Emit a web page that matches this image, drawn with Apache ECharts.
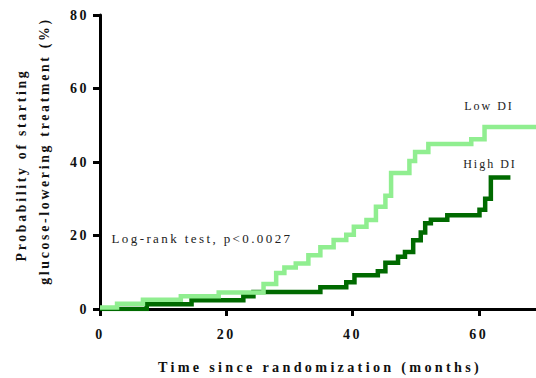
<!DOCTYPE html>
<html><head><meta charset="utf-8">
<script src="https://cdn.jsdelivr.net/npm/echarts@6/dist/echarts.min.js"></script>
<style>
html,body{margin:0;padding:0;background:#fff}
#c{width:536px;height:378px}
#c text[style*="14px"]{letter-spacing:2.5px}
#c text[style*="14.2px"]{letter-spacing:3.3px}
#c text[style*="13.8px"]{letter-spacing:2.7px}
#c text[style*="13px"]{letter-spacing:2.4px}
#c text[style*="12px"]{letter-spacing:2px}
</style></head><body><div id="c"></div><script>
// Kaplan-Meier style cumulative probability (%), [months, value from that time on]
const lowDI = [[0,0.4],[2.7,1.4],[6.8,2.5],[12.8,3.5],[18.8,4.5],[25.9,6.8],[27.9,9.8],[29.2,11.3],[31,12.4],[33,14.6],[34.9,16.8],[37,18.8],[39,20.2],[40.2,22.4],[42.2,24.2],[43.7,27.8],[45.2,30.8],[46.1,37],[49,40.3],[49.9,42.7],[52,44.9],[58.8,46.2],[60.9,49.5],[70,49.5]];
const highDI = [[0,0],[7.4,1.3],[14.5,2.4],[22.7,3.5],[24.3,4.6],[34.9,5.9],[39,7.3],[40.3,9.2],[44,10.3],[45.2,12.6],[47.2,14.2],[48.3,15.5],[49.6,18.7],[50.8,20.8],[51.5,23.3],[52.4,24.3],[55,25.5],[60.1,27],[61,30],[61.9,35.8],[65,35.8]];
const xTickLabels = [0,20,40,60];
const yTickLabels = [0,20,40,60,80];
const xTitle = 'Time since randomization (months)';
const yTitle1 = 'Probability of starting';
const yTitle2 = 'glucose-lowering treatment (%)';
const note = 'Log-rank test, p<0.0027';
const lowName = 'Low DI', highName = 'High DI';

const chart = echarts.init(document.getElementById('c'), null, {renderer:'svg'});
const serif = '"Liberation Serif", "DejaVu Serif", serif';
chart.setOption({
  animation:false,
  grid:{left:100,right:-6,top:15,bottom:69,containLabel:false,outerBoundsMode:'none'},
  xAxis:{type:'value',min:0,max:70,interval:20,
    splitLine:{show:false},
    axisLine:{onZero:false,lineStyle:{color:'#000',width:3}},
    axisTick:{length:7,lineStyle:{color:'#000',width:3}},
    axisLabel:{margin:18,fontSize:14,fontWeight:'bold',fontFamily:serif,color:'#111',
      formatter:v=>xTickLabels.includes(v)?String(v):''}},
  yAxis:{type:'value',min:0,max:80,interval:20,
    splitLine:{show:false},
    axisLine:{show:true,lineStyle:{color:'#000',width:3}},
    axisTick:{show:true,length:7,lineStyle:{color:'#000',width:3}},
    axisLabel:{margin:11,fontSize:14,fontWeight:'bold',fontFamily:serif,color:'#111',
      formatter:v=>yTickLabels.includes(v)?String(v):''}},
  series:[
    {type:'line',name:highName,data:highDI,step:'end',symbol:'none',z:2,
      lineStyle:{color:'#006a00',width:4.5,cap:'butt',join:'miter'}},
    {type:'line',name:lowName,data:lowDI,step:'end',symbol:'none',z:3,
      lineStyle:{color:'#90ee90',width:4.5,cap:'butt',join:'miter'}}
  ],
  graphic:[
    {type:'text',x:21.5,y:165,rotation:Math.PI/2,style:{text:yTitle1,font:'bold 13.8px '+serif,fill:'#111',align:'center',verticalAlign:'middle'}},
    {type:'text',x:44,y:151,rotation:Math.PI/2,style:{text:yTitle2,font:'bold 13.8px '+serif,fill:'#111',align:'center',verticalAlign:'middle'}},
    {type:'text',x:320,y:367,style:{text:xTitle,font:'bold 14.2px '+serif,fill:'#111',align:'center',verticalAlign:'middle'}},
    {type:'text',x:202,y:238,style:{text:note,font:'13px '+serif,fill:'#222',align:'center',verticalAlign:'middle'}},
    {type:'text',x:489,y:106,style:{text:lowName,font:'12px '+serif,fill:'#222',align:'center',verticalAlign:'middle'}},
    {type:'text',x:490,y:164,style:{text:highName,font:'12px '+serif,fill:'#222',align:'center',verticalAlign:'middle'}}
  ]
});
</script></body></html>
